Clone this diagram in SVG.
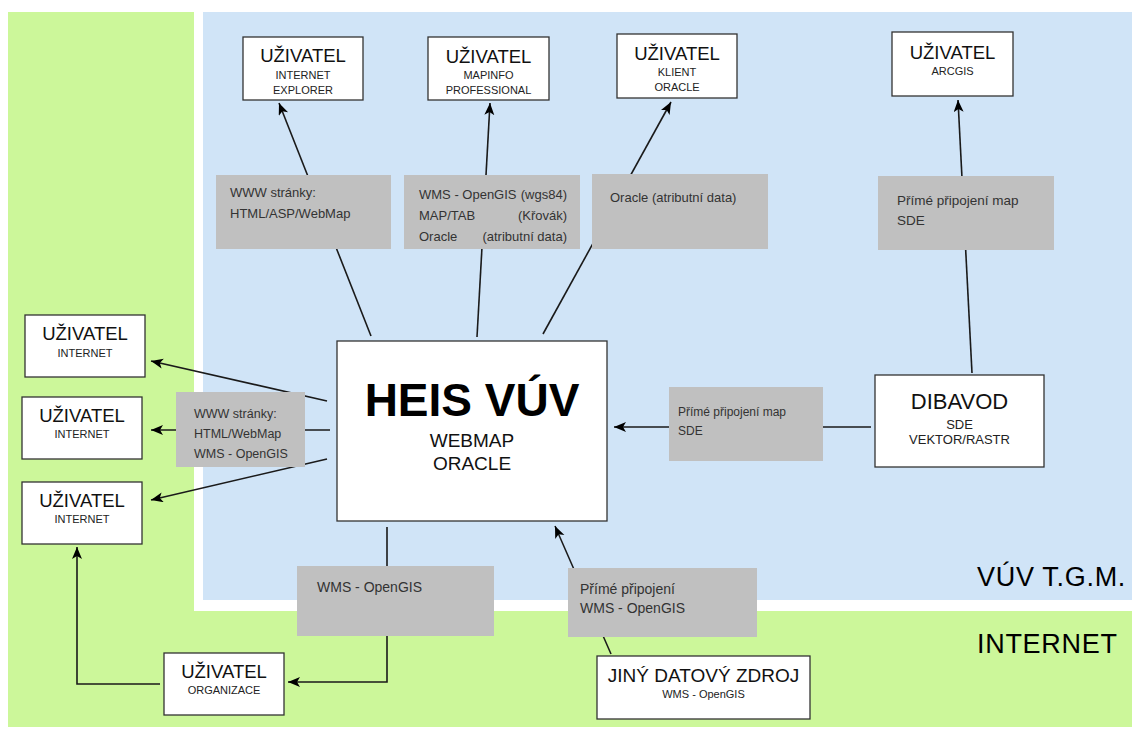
<svg xmlns="http://www.w3.org/2000/svg" width="1132" height="729" viewBox="0 0 1132 729">
  <defs>
    <marker id="arr" markerUnits="userSpaceOnUse" markerWidth="13" markerHeight="11" refX="12" refY="5" orient="auto">
      <path d="M0,0 L12,5 L0,10 L3,5 z" fill="#000"/>
    </marker>
    <style>
      text { font-family: "Liberation Sans", Arial, sans-serif; }
      .node { fill: #fff; stroke: #333; stroke-width: 1.3; }
      .lab { fill: #c0c0c0; }
      .ttl { font-size: 18.5px; fill: #111; text-anchor: middle; }
      .sub { font-size: 11px; fill: #222; text-anchor: middle; }
      .lt { fill: #333; }
      .edge { fill: none; stroke: #1a1a1a; stroke-width: 1.6; }
      .zone { font-size: 27px; fill: #000; letter-spacing: 0.7px; }
    </style>
  </defs>

  <!-- backgrounds -->
  <rect x="0" y="0" width="1132" height="729" fill="#fff"/>
  <rect x="8" y="12" width="1124" height="715" fill="#ccf79a"/>
  <rect x="194" y="12" width="938" height="599" fill="#fff"/>
  <rect x="203" y="12" width="929" height="588" fill="#d0e4f7"/>
  <text class="zone" x="977" y="586">VÚV T.G.M.</text>
  <text class="zone" x="977" y="653">INTERNET</text>

  <!-- connectors -->
  <g id="connectors">
    <line class="edge" x1="371" y1="336" x2="279" y2="103" marker-end="url(#arr)"/>
    <line class="edge" x1="477" y1="337" x2="490" y2="103" marker-end="url(#arr)"/>
    <line class="edge" x1="543" y1="334" x2="671" y2="102" marker-end="url(#arr)"/>
    <line class="edge" x1="972" y1="373" x2="958" y2="100" marker-end="url(#arr)"/>
    <line class="edge" x1="871" y1="427" x2="614" y2="427" marker-end="url(#arr)"/>
    <line class="edge" x1="327" y1="401" x2="151" y2="361" marker-end="url(#arr)"/>
    <line class="edge" x1="330" y1="430" x2="151" y2="430" marker-end="url(#arr)"/>
    <line class="edge" x1="327" y1="459" x2="151" y2="500" marker-end="url(#arr)"/>
    <path class="edge" d="M387,527 V682 H288" marker-end="url(#arr)"/>
    <path class="edge" d="M160,684 H77 V547" marker-end="url(#arr)"/>
    <line class="edge" x1="611" y1="654" x2="555" y2="526" marker-end="url(#arr)"/>
  </g>

  <!-- connector labels -->
  <g id="labels">
    <g id="lab-www">
      <rect class="lab" x="216" y="175" width="175" height="74"/>
      <text class="lt" font-size="13" x="230" y="197">WWW stránky:</text>
      <text class="lt" font-size="13" x="230" y="218">HTML/ASP/WebMap</text>
    </g>
    <g id="lab-wms">
      <rect class="lab" x="404" y="175" width="176" height="74"/>
      <text class="lt" font-size="13" x="419" y="199">WMS - OpenGIS</text>
      <text class="lt" font-size="13" x="567" y="199" text-anchor="end">(wgs84)</text>
      <text class="lt" font-size="13" x="419" y="220">MAP/TAB</text>
      <text class="lt" font-size="13" x="567" y="220" text-anchor="end">(Křovák)</text>
      <text class="lt" font-size="13" x="419" y="241">Oracle</text>
      <text class="lt" font-size="13" x="567" y="241" text-anchor="end">(atributní data)</text>
    </g>
    <g id="lab-oracle">
      <rect class="lab" x="592" y="174" width="176" height="75"/>
      <text class="lt" font-size="13" x="610" y="202">Oracle (atributní data)</text>
    </g>
    <g id="lab-sde-top">
      <rect class="lab" x="878" y="176" width="176" height="74"/>
      <text class="lt" font-size="13.5" x="897" y="205">Přímé připojení map</text>
      <text class="lt" font-size="13.5" x="897" y="225">SDE</text>
    </g>
    <g id="lab-left">
      <rect class="lab" x="176" y="392" width="129" height="75"/>
      <text class="lt" font-size="12.5" x="194" y="418">WWW stránky:</text>
      <text class="lt" font-size="12.5" x="194" y="438">HTML/WebMap</text>
      <text class="lt" font-size="12.5" x="194" y="458">WMS - OpenGIS</text>
    </g>
    <g id="lab-sde-mid">
      <rect class="lab" x="669" y="387" width="154" height="74"/>
      <text class="lt" font-size="12" x="678" y="416">Přímé připojení map</text>
      <text class="lt" font-size="12" x="678" y="435">SDE</text>
    </g>
    <g id="lab-wms-bottom">
      <rect class="lab" x="297" y="566" width="197" height="70"/>
      <text class="lt" font-size="14" x="317" y="592">WMS - OpenGIS</text>
    </g>
    <g id="lab-prime-bottom">
      <rect class="lab" x="568" y="568" width="189" height="69"/>
      <text class="lt" font-size="14" x="580" y="594">Přímé připojení</text>
      <text class="lt" font-size="14" x="580" y="613">WMS - OpenGIS</text>
    </g>
  </g>

  <!-- nodes -->
  <g id="node-ie">
    <rect class="node" x="243" y="37" width="120" height="63"/>
    <text class="ttl" x="303" y="62">UŽIVATEL</text>
    <text class="sub" x="303" y="79">INTERNET</text>
    <text class="sub" x="303" y="94">EXPLORER</text>
  </g>
  <g id="node-mapinfo">
    <rect class="node" x="428" y="37" width="121" height="63"/>
    <text class="ttl" x="488.5" y="63">UŽIVATEL</text>
    <text class="sub" x="488.5" y="79">MAPINFO</text>
    <text class="sub" x="488.5" y="94">PROFESSIONAL</text>
  </g>
  <g id="node-klient">
    <rect class="node" x="617" y="34" width="120" height="64"/>
    <text class="ttl" x="677" y="60">UŽIVATEL</text>
    <text class="sub" x="677" y="76">KLIENT</text>
    <text class="sub" x="677" y="91">ORACLE</text>
  </g>
  <g id="node-arcgis">
    <rect class="node" x="892" y="32" width="121" height="64"/>
    <text class="ttl" x="952.5" y="59">UŽIVATEL</text>
    <text class="sub" x="952.5" y="75">ARCGIS</text>
  </g>
  <g id="node-internet1">
    <rect class="node" x="25" y="315" width="120" height="62"/>
    <text class="ttl" x="85" y="340">UŽIVATEL</text>
    <text class="sub" x="85" y="357">INTERNET</text>
  </g>
  <g id="node-internet2">
    <rect class="node" x="22" y="397" width="120" height="62"/>
    <text class="ttl" x="82" y="422">UŽIVATEL</text>
    <text class="sub" x="82" y="438">INTERNET</text>
  </g>
  <g id="node-internet3">
    <rect class="node" x="22" y="482" width="120" height="62"/>
    <text class="ttl" x="82" y="507">UŽIVATEL</text>
    <text class="sub" x="82" y="523">INTERNET</text>
  </g>
  <g id="node-organizace">
    <rect class="node" x="164" y="653" width="120" height="62"/>
    <text class="ttl" x="224" y="678">UŽIVATEL</text>
    <text class="sub" x="224" y="694">ORGANIZACE</text>
  </g>
  <g id="node-heis">
    <rect class="node" x="337" y="341" width="270" height="180"/>
    <text x="472" y="416" font-size="46" font-weight="bold" text-anchor="middle" fill="#000">HEIS VÚV</text>
    <text x="472" y="447" font-size="19" text-anchor="middle" fill="#111">WEBMAP</text>
    <text x="472" y="470" font-size="19" text-anchor="middle" fill="#111">ORACLE</text>
  </g>
  <g id="node-dibavod">
    <rect class="node" x="875" y="375" width="169" height="92"/>
    <text x="959.5" y="409" font-size="22" text-anchor="middle" fill="#111">DIBAVOD</text>
    <text x="959.5" y="429" font-size="13" text-anchor="middle" fill="#222">SDE</text>
    <text x="959.5" y="444" font-size="13" text-anchor="middle" fill="#222">VEKTOR/RASTR</text>
  </g>
  <g id="node-jiny">
    <rect class="node" x="597" y="656" width="213" height="63"/>
    <text x="703.5" y="682" font-size="19" text-anchor="middle" fill="#111">JINÝ DATOVÝ ZDROJ</text>
    <text class="sub" x="703.5" y="698">WMS - OpenGIS</text>
  </g>
</svg>
